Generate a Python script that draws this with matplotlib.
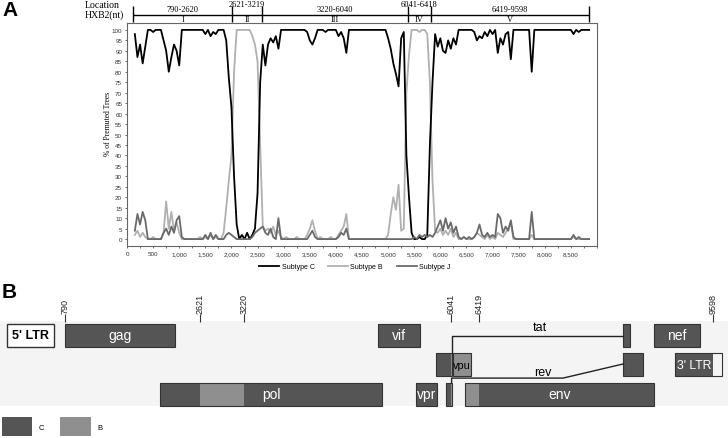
import matplotlib
matplotlib.use("Agg")
import matplotlib.pyplot as plt
import numpy as np
from matplotlib.patches import Patch
from matplotlib.ticker import MultipleLocator, FuncFormatter

plt.rcParams['font.family'] = ['Liberation Sans', 'DejaVu Sans']

# ---- panel A: bootscan, % of permuted trees (window positions every 50 nt) ----
positions = np.arange(150, 8851, 50)

subtype_c = [
    98, 87, 93, 84, 92, 100, 100, 99, 100, 100, 100, 95, 90, 80, 87, 93, 90, 83, 100, 100,
    100, 100, 100, 100, 100, 100, 100, 98, 100, 97, 99, 98, 100, 100, 100, 95, 77, 63, 30, 7,
    0, 2, 0, 3, 0, 2, 5, 22, 75, 93, 83, 93, 96, 94, 97, 91, 100, 100, 100, 100,
    100, 100, 100, 100, 100, 100, 99, 95, 93, 96, 100, 100, 100, 99, 100, 100, 100, 100, 97, 99,
    96, 89, 100, 100, 100, 100, 100, 100, 100, 100, 100, 100, 100, 100, 100, 100, 100, 96, 91, 84,
    79, 73, 96, 99, 40, 20, 3, 0, 0, 1, 0, 0, 2, 45, 75, 98, 92, 96, 90, 89,
    95, 91, 96, 93, 100, 100, 100, 100, 100, 100, 99, 95, 97, 96, 99, 97, 100, 98, 100, 89,
    96, 93, 98, 99, 86, 100, 100, 100, 100, 100, 100, 100, 80, 100, 100, 100, 100, 100, 100, 100,
    100, 100, 100, 100, 100, 100, 100, 100, 98, 100, 99, 100, 100, 100, 100,
]
subtype_b = [
    2, 4, 1, 3, 1, 0, 0, 1, 0, 0, 0, 3, 18, 5, 13, 4, 8, 3, 0, 0,
    0, 0, 0, 0, 0, 1, 0, 1, 0, 2, 0, 1, 0, 0, 3, 15, 28, 40, 80, 100,
    100, 100, 100, 100, 100, 97, 93, 85, 45, 6, 4, 5, 3, 6, 2, 4, 1, 0, 1, 0,
    0, 0, 1, 0, 0, 0, 2, 5, 9, 4, 0, 1, 0, 0, 0, 1, 0, 0, 2, 4,
    6, 12, 0, 0, 0, 0, 0, 0, 0, 0, 0, 0, 0, 0, 0, 0, 0, 2, 12, 20,
    14, 26, 4, 5, 70, 88, 100, 100, 100, 99, 100, 100, 98, 75, 28, 4, 3, 5, 2, 4,
    2, 5, 1, 3, 0, 0, 1, 0, 0, 0, 1, 3, 2, 1, 0, 2, 0, 1, 0, 3,
    2, 1, 3, 5, 8, 0, 0, 0, 0, 0, 0, 0, 2, 0, 0, 0, 0, 0, 0, 0,
    0, 0, 0, 0, 0, 0, 0, 0, 1, 0, 0, 0, 0, 0, 0,
]
subtype_j = [
    4, 12, 7, 13, 9, 0, 0, 0, 0, 0, 0, 3, 5, 2, 6, 3, 9, 11, 1, 0,
    0, 0, 0, 0, 0, 0, 0, 2, 0, 3, 0, 2, 0, 0, 0, 2, 3, 2, 1, 0,
    0, 0, 0, 0, 0, 1, 3, 4, 5, 6, 3, 2, 5, 1, 0, 10, 0, 0, 0, 0,
    0, 0, 0, 0, 0, 0, 0, 2, 4, 1, 0, 0, 0, 0, 0, 0, 0, 0, 1, 3,
    2, 5, 0, 0, 0, 0, 0, 0, 0, 0, 0, 0, 0, 0, 0, 0, 0, 0, 0, 0,
    0, 0, 0, 0, 0, 0, 0, 1, 0, 2, 1, 2, 1, 2, 1, 3, 6, 9, 4, 10,
    5, 8, 3, 6, 1, 0, 1, 0, 1, 0, 1, 3, 7, 2, 1, 3, 1, 2, 1, 12,
    10, 3, 6, 4, 9, 1, 0, 0, 0, 0, 0, 0, 13, 0, 0, 0, 0, 0, 0, 0,
    0, 0, 0, 0, 0, 0, 0, 0, 2, 0, 1, 0, 0, 0, 0,
]

# header regions (alignment coordinates) and their HXB2 ranges
region_bounds = [120, 2010, 2585, 5380, 5820, 8850]
region_ranges = ['790-2620', '2621-3219', '3220-6040', '6041-6418', '6419-9598']
region_names = ['I', 'II', 'III', 'IV', 'V']

# ---- panel B: HXB2 genome map ----
gene_names = ['gag', 'pol', 'vif', 'vpr', 'vpu', 'env', 'nef']
gene_start = [790, 2085, 5041, 5559, 6062, 6225, 8797]
gene_end = [2292, 5096, 5619, 5850, 6310, 8795, 9417]
gene_row = [0, 2, 0, 2, 1, 2, 0]
b_regions = [(2621, 3219), (6041, 6418)]
tat_exons = [(5831, 6045), (8379, 8469)]
tat_rows = [1, 0]
rev_exons = [(5970, 6045), (8379, 8653)]
rev_rows = [2, 1]
ltr5 = (1, 634)
ltr3 = (9086, 9719)
ltr3_end_c = 9598
map_ticks = [790, 2621, 3220, 6041, 6419, 9598]

C_COL = '#555555'
B_COL = '#8f8f8f'
EDGE = '#333333'

W, H = 728, 439
fig = plt.figure(figsize=(W / 100, H / 100), dpi=100)

# main plot
ax = fig.add_axes([127 / W, 1 - 247 / H, 470 / W, 223 / H])
lb, = ax.plot(positions, subtype_b, color='#b0b0b0', lw=1.3)
lc, = ax.plot(positions, subtype_c, color='black', lw=1.3)
lj, = ax.plot(positions, subtype_j, color='#6a6a6a', lw=1.3)
ax.set_xlim(0, 9000)
ax.set_ylim(-3.3, 103.3)
ax.set_yticks(np.arange(0, 101, 5))
ax.set_xticks(np.arange(0, 8501, 500))
ax.xaxis.set_minor_locator(MultipleLocator(250))
ax.xaxis.set_major_formatter(FuncFormatter(lambda v, p: f'{int(v):,}'))
ax.tick_params(labelsize=4.5, length=1.5, width=0.5, pad=2, colors='#333333')
ax.tick_params(which='minor', length=1.2, width=0.4)
for s in ax.spines.values():
    s.set_color('#666666')
    s.set_linewidth(0.8)
ax.set_ylabel('% of Premuted Trees', fontsize=5.5, family=['Liberation Serif'])
ax.yaxis.set_label_coords(-0.032, 0.55)
ax.legend([lc, lb, lj], ['Subtype C', 'Subtype B', 'Subtype J'], ncol=3,
          loc='center', bbox_to_anchor=(0.485, -0.094), frameon=False,
          fontsize=5, handlelength=2.9, columnspacing=2.0, handletextpad=0.3)

# header with regions
hx = fig.add_axes([127 / W, 1 - 24 / H, 470 / W, 24 / H])
hx.set_xlim(0, 9000)
hx.set_ylim(24, 0)
hx.axis('off')
hx.hlines(16, region_bounds[0], region_bounds[-1], color='black', lw=1)
hx.vlines(region_bounds, 7, 23, color='black', lw=1)
for i in range(len(region_names)):
    a, b = region_bounds[i], region_bounds[i + 1]
    mid = (a + b) / 2
    ytxt = 4.8 if b - a < 1000 else 10.5
    hx.text(mid, ytxt, region_ranges[i], ha='center', va='center', fontsize=6,
            family=['Liberation Serif'])
    hx.text(mid, 20.3, region_names[i], ha='center', va='center', fontsize=6,
            family=['Liberation Serif'])
fig.text(85 / W, 1 - 5 / H, 'Location', fontsize=7, family=['Liberation Serif'], va='center')
fig.text(85 / W, 1 - 15 / H, 'HXB2(nt)', fontsize=7, family=['Liberation Serif'], va='center')

fig.text(2 / W, 1 - 1 / H, 'A', fontsize=15, fontweight='bold', va='top')
fig.text(2 / W, 1 - 283 / H, 'B', fontsize=15, fontweight='bold', va='top')

# genome map
bx = fig.add_axes([0, 0, 1, 143 / H])
bx.set_xlim(-93.5, 9802)
bx.set_ylim(3.49, -1.356)
bx.axis('off')
bx.axhspan(-0.475, 2.39, color='#f4f4f4', zorder=0, lw=0)
hgt = 0.78


def draw_box(start, end, row, label=None, tcol='white', fs=10):
    bx.barh(row, end - start, left=start, height=hgt, color=C_COL, lw=0, zorder=2)
    for b0, b1 in b_regions:
        s, e = max(start, b0), min(end, b1)
        if e > s:
            bx.barh(row, e - s, left=s, height=hgt, color=B_COL, lw=0, zorder=3)
    bx.barh(row, end - start, left=start, height=hgt, fill=False, edgecolor=EDGE,
            lw=0.8, zorder=4)
    if label:
        bx.text((start + end) / 2, row, label, ha='center', va='center',
                color=tcol, fontsize=fs, zorder=5)


for name, s, e, r in zip(gene_names, gene_start, gene_end, gene_row):
    draw_box(s, e, r, name, tcol='black' if name == 'vpu' else 'white',
             fs=7.8 if name == 'vpu' else 10)
for (s, e), r in zip(tat_exons, tat_rows):
    draw_box(s, e, r)
for (s, e), r in zip(rev_exons, rev_rows):
    draw_box(s, e, r)

# splice lines
bx.plot([tat_exons[0][1], tat_exons[0][1], tat_exons[1][0]],
        [tat_rows[0] - hgt / 2, 0.05, 0.05], color='#222222', lw=1, zorder=4)
bx.text(7246, -0.27, 'tat', ha='center', va='center', fontsize=9)
bx.plot([rev_exons[0][1], rev_exons[0][1], 7559, rev_exons[1][0]],
        [rev_rows[0] - hgt / 2, 1.46, 1.46, 0.98], color='#222222', lw=1, zorder=4)
bx.text(7287, 1.25, 'rev', ha='center', va='center', fontsize=9)

# LTRs
bx.barh(0, ltr5[1] - ltr5[0], left=ltr5[0], height=hgt, color='white',
        edgecolor=EDGE, lw=1, zorder=2)
bx.text(sum(ltr5) / 2, 0, "5' LTR", ha='center', va='center', fontsize=9,
        fontweight='semibold')
bx.barh(1, ltr3_end_c - ltr3[0], left=ltr3[0], height=hgt, color=C_COL, lw=0, zorder=2)
bx.barh(1, ltr3[1] - ltr3[0], left=ltr3[0], height=hgt, fill=False,
        edgecolor=EDGE, lw=0.8, zorder=4)
bx.text((ltr3[0] + ltr3_end_c) / 2, 1, "3' LTR", ha='center', va='center',
        fontsize=8.8, color='white', zorder=5)

# position ticks
bx.vlines(map_ticks, -0.71, -0.44, color=EDGE, lw=0.8)
for t in map_ticks:
    bx.text(t, -0.73, str(t), rotation=90, ha='center', va='bottom', fontsize=6.5,
            color='#222222')

bx.legend([Patch(facecolor=C_COL), Patch(facecolor=B_COL)], ['C', 'B'], ncol=2,
          loc='lower left', bbox_to_anchor=(0.0, 0.0), frameon=False, fontsize=5.5,
          handlelength=4.0, handleheight=3.6, handletextpad=0.8, columnspacing=2.2,
          borderaxespad=0.1, borderpad=0.1)

fig.savefig('out.png', dpi=100)
